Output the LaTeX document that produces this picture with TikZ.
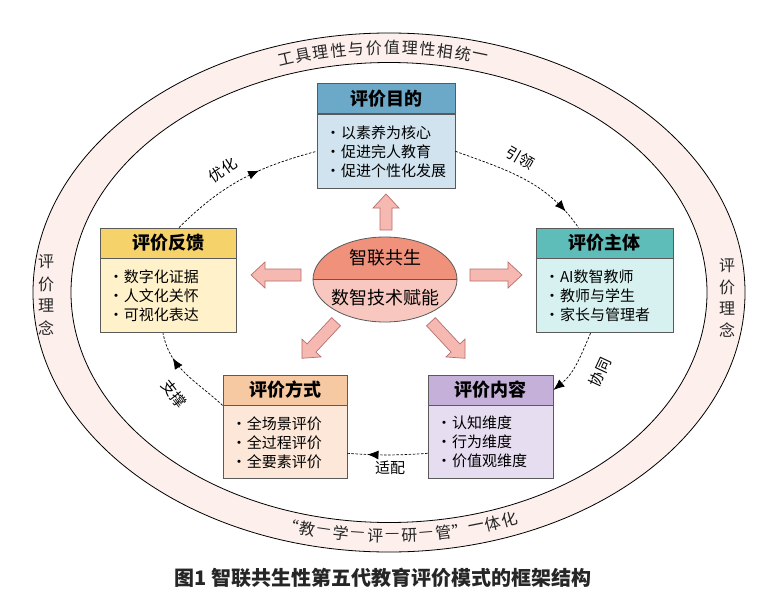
\documentclass[tikz,border=0pt]{standalone}
\usepackage{fontspec}
\setmainfont{Noto Sans CJK SC}
\usepackage{xcolor}
\usetikzlibrary{shapes.geometric,arrows.meta,decorations.markings,calc}

\definecolor{boxline}{HTML}{5A5A5A}
\definecolor{bandpink}{HTML}{FCEFEC}
\definecolor{goalHd}{HTML}{6CA8C8}
\definecolor{goalBg}{HTML}{D0E3EE}
\definecolor{fbHd}{HTML}{F6D26A}
\definecolor{fbBg}{HTML}{FFF2CA}
\definecolor{subjHd}{HTML}{5FBDB9}
\definecolor{subjBg}{HTML}{D6F1EF}
\definecolor{methHd}{HTML}{F6C9A2}
\definecolor{methBg}{HTML}{FCE7D8}
\definecolor{contHd}{HTML}{C4B0D8}
\definecolor{contBg}{HTML}{E6DDF0}
\definecolor{hubTop}{HTML}{F0917C}
\definecolor{hubBot}{HTML}{F8C8C0}
\definecolor{blkFill}{HTML}{F6B9B1}
\definecolor{blkLine}{HTML}{B86E6E}

% bullet of the lists
\newcommand{\bul}{\makebox[16pt][c]{·}}
% block arrow: centre, angle, length
\newcommand{\blockarrow}[3]{%
  \draw[blk, shift={#1}, rotate=#2] (-#3/2,-6) -- (#3/2-14,-6) -- (#3/2-14,-13) -- (#3/2,0)
    -- (#3/2-14,13) -- (#3/2-14,6) -- (-#3/2,6) -- cycle;}

\tikzset{
  head/.style={draw=boxline, line width=0.8pt, minimum height=30, inner sep=0,
    font=\bfseries\fontsize{18}{20}\selectfont},
  list/.style={draw=boxline, line width=0.8pt, anchor=north, inner xsep=8, inner ysep=0,
    align=left, font=\fontsize{15}{19}\selectfont},
  blk/.style={draw=blkLine, fill=blkFill, line width=0.7pt},
  loop/.style={dash pattern=on 2.5pt off 1.6pt, line width=0.7pt},
  midtip/.style={postaction={decorate}, decoration={markings,
    mark=at position #1 with {\arrow{Latex[length=11pt,width=9pt]}}}},
  lbl/.style={font=\fontsize{15}{17}\selectfont},
  bandtxt/.style={font=\fontsize{16}{18}\selectfont, text=black!85, inner sep=0},
}

\begin{document}
\begin{tikzpicture}[x=1pt,y=1pt]
\useasboundingbox (0,0) rectangle (781,-594);

% Outer band
\fill[bandpink, draw=black, line width=0.8pt] (389,-292.5) ellipse [x radius=356, y radius=259.5];
\fill[white, draw=black, line width=0.8pt] (389,-292.5) ellipse [x radius=318, y radius=230];

% Band texts
\foreach \ch [count=\i from 0] in {工,具,理,性,与,价,值,理,性,相,统,一} {
  \pgfmathsetmacro\t{107.8-3.05*\i}
  \pgfmathsetmacro\r{atan2(-245*cos(\t),337*sin(\t))}
  \node[bandtxt, rotate=\r] (top\i) at ({389+337*cos(\t)},{-292.5+245*sin(\t)}) {\ch};
}
\foreach \ch [count=\i from 0] in {“,教,—,学,—,评,—,研,—,管,”,一,体,化} {
  \pgfmathsetmacro\t{-106.9+2.91*\i}
  \pgfmathsetmacro\r{atan2(245*cos(\t),-337*sin(\t))}
  \node[bandtxt, rotate=\r] (bot\i) at ({389+337*cos(\t)},{-291+245*sin(\t)}) {\ch};
}
\foreach \ch [count=\i] in {评,价,理,念} {
  \node[bandtxt] (sideL\i) at (46,{-240-22*\i}) {\ch};
  \node[bandtxt] (sideR\i) at (727,{-244-21.5*\i}) {\ch};
}

% Goal box
\node[head, fill=goalHd, minimum width=138] (goal) at (386,-98.5) {评价目的};
\node[list, fill=goalBg, text width=122, minimum height=74] (goalList) at (goal.south)
  {\bul 以素养为核心\\\bul 促进完人教育\\\bul 促进个性化发展};
% Feedback box
\node[head, fill=fbHd, minimum width=136] (fb) at (168,-243) {评价反馈};
\node[list, fill=fbBg, text width=120, minimum height=74] (fbList) at (fb.south)
  {\bul 数字化证据\\\bul 人文化关怀\\\bul 可视化表达};
% Subject box
\node[head, fill=subjHd, minimum width=137] (subj) at (604.5,-243) {评价主体};
\node[list, fill=subjBg, text width=121, minimum height=74] (subjList) at (subj.south)
  {\bul AI数智教师\\\bul 教师与学生\\\bul 家长与管理者};
% Method box
\node[head, fill=methHd, minimum width=124] (meth) at (285,-390) {评价方式};
\node[list, fill=methBg, text width=108, minimum height=73] (methList) at (meth.south)
  {\bul 全场景评价\\\bul 全过程评价\\\bul 全要素评价};
% Content box
\node[head, fill=contHd, minimum width=125] (cont) at (490.5,-390) {评价内容};
\node[list, fill=contBg, text width=109, minimum height=73] (contList) at (cont.south)
  {\bul 认知维度\\\bul 行为维度\\\bul 价值观维度};

% Hub
\fill[hubTop] (313,-279.5) arc[start angle=180, end angle=0, x radius=72, y radius=42.5] -- cycle;
\fill[hubBot] (313,-279.5) arc[start angle=180, end angle=360, x radius=72, y radius=42.5] -- cycle;
\node[draw=boxline, line width=0.8pt, ellipse, minimum width=144, minimum height=85, inner sep=0] (hub) at (385,-279.5) {};
\draw[boxline, line width=0.8pt] (hub.west) -- (hub.east);
\node[font=\fontsize{18}{20}\selectfont] (hubA) at (385,-258) {智联共生};
\node[font=\fontsize{18}{20}\selectfont] (hubB) at (385,-298) {数智技术赋能};

% Block arrows
\blockarrow{(386,-212)}{90}{36}
\blockarrow{(276,-275)}{180}{50}
\blockarrow{(496,-275)}{0}{52}
\blockarrow{(319,-340)}{-133}{50}
\blockarrow{(448,-340)}{-47}{50}

% Cycle connectors
\draw[loop, midtip=0.62] ($(fb.north)+(11,0)$) to[out=45,in=195] (goalList.west);
\draw[loop, midtip=0.86] (goalList.east) to[out=-20,in=125] ($(subj.north)+(-26,0)$);
\draw[loop, -{Latex[length=11pt,width=9pt]}] ($(subjList.south)+(-14,0)$) to[out=-113,in=39] (cont.east);
\draw[loop, midtip=0.75] ($(contList.west)+(0,-11)$) to[bend left=4] ($(methList.east)+(0,-11)$);
\draw[loop, midtip=0.72] (meth.south west) to[out=137,in=-79] ($(fbList.south)+(-5,0)$);

% Connector labels
\node[lbl, rotate=35] (lblA) at (223,-170) {优化};
\node[lbl, rotate=-30] (lblB) at (520,-158) {引领};
\node[lbl, rotate=65] (lblC) at (600,-372) {协同};
\node[lbl] (lblD) at (390,-468) {适配};
\node[lbl, rotate=-52] (lblE) at (174,-394) {支撑};

% Caption
\node[font=\bfseries\fontsize{20}{22}\selectfont, text=black!85] (cap) at (383,-578)
  {图1 智联共生性第五代教育评价模式的框架结构};
\end{tikzpicture}
\end{document}
